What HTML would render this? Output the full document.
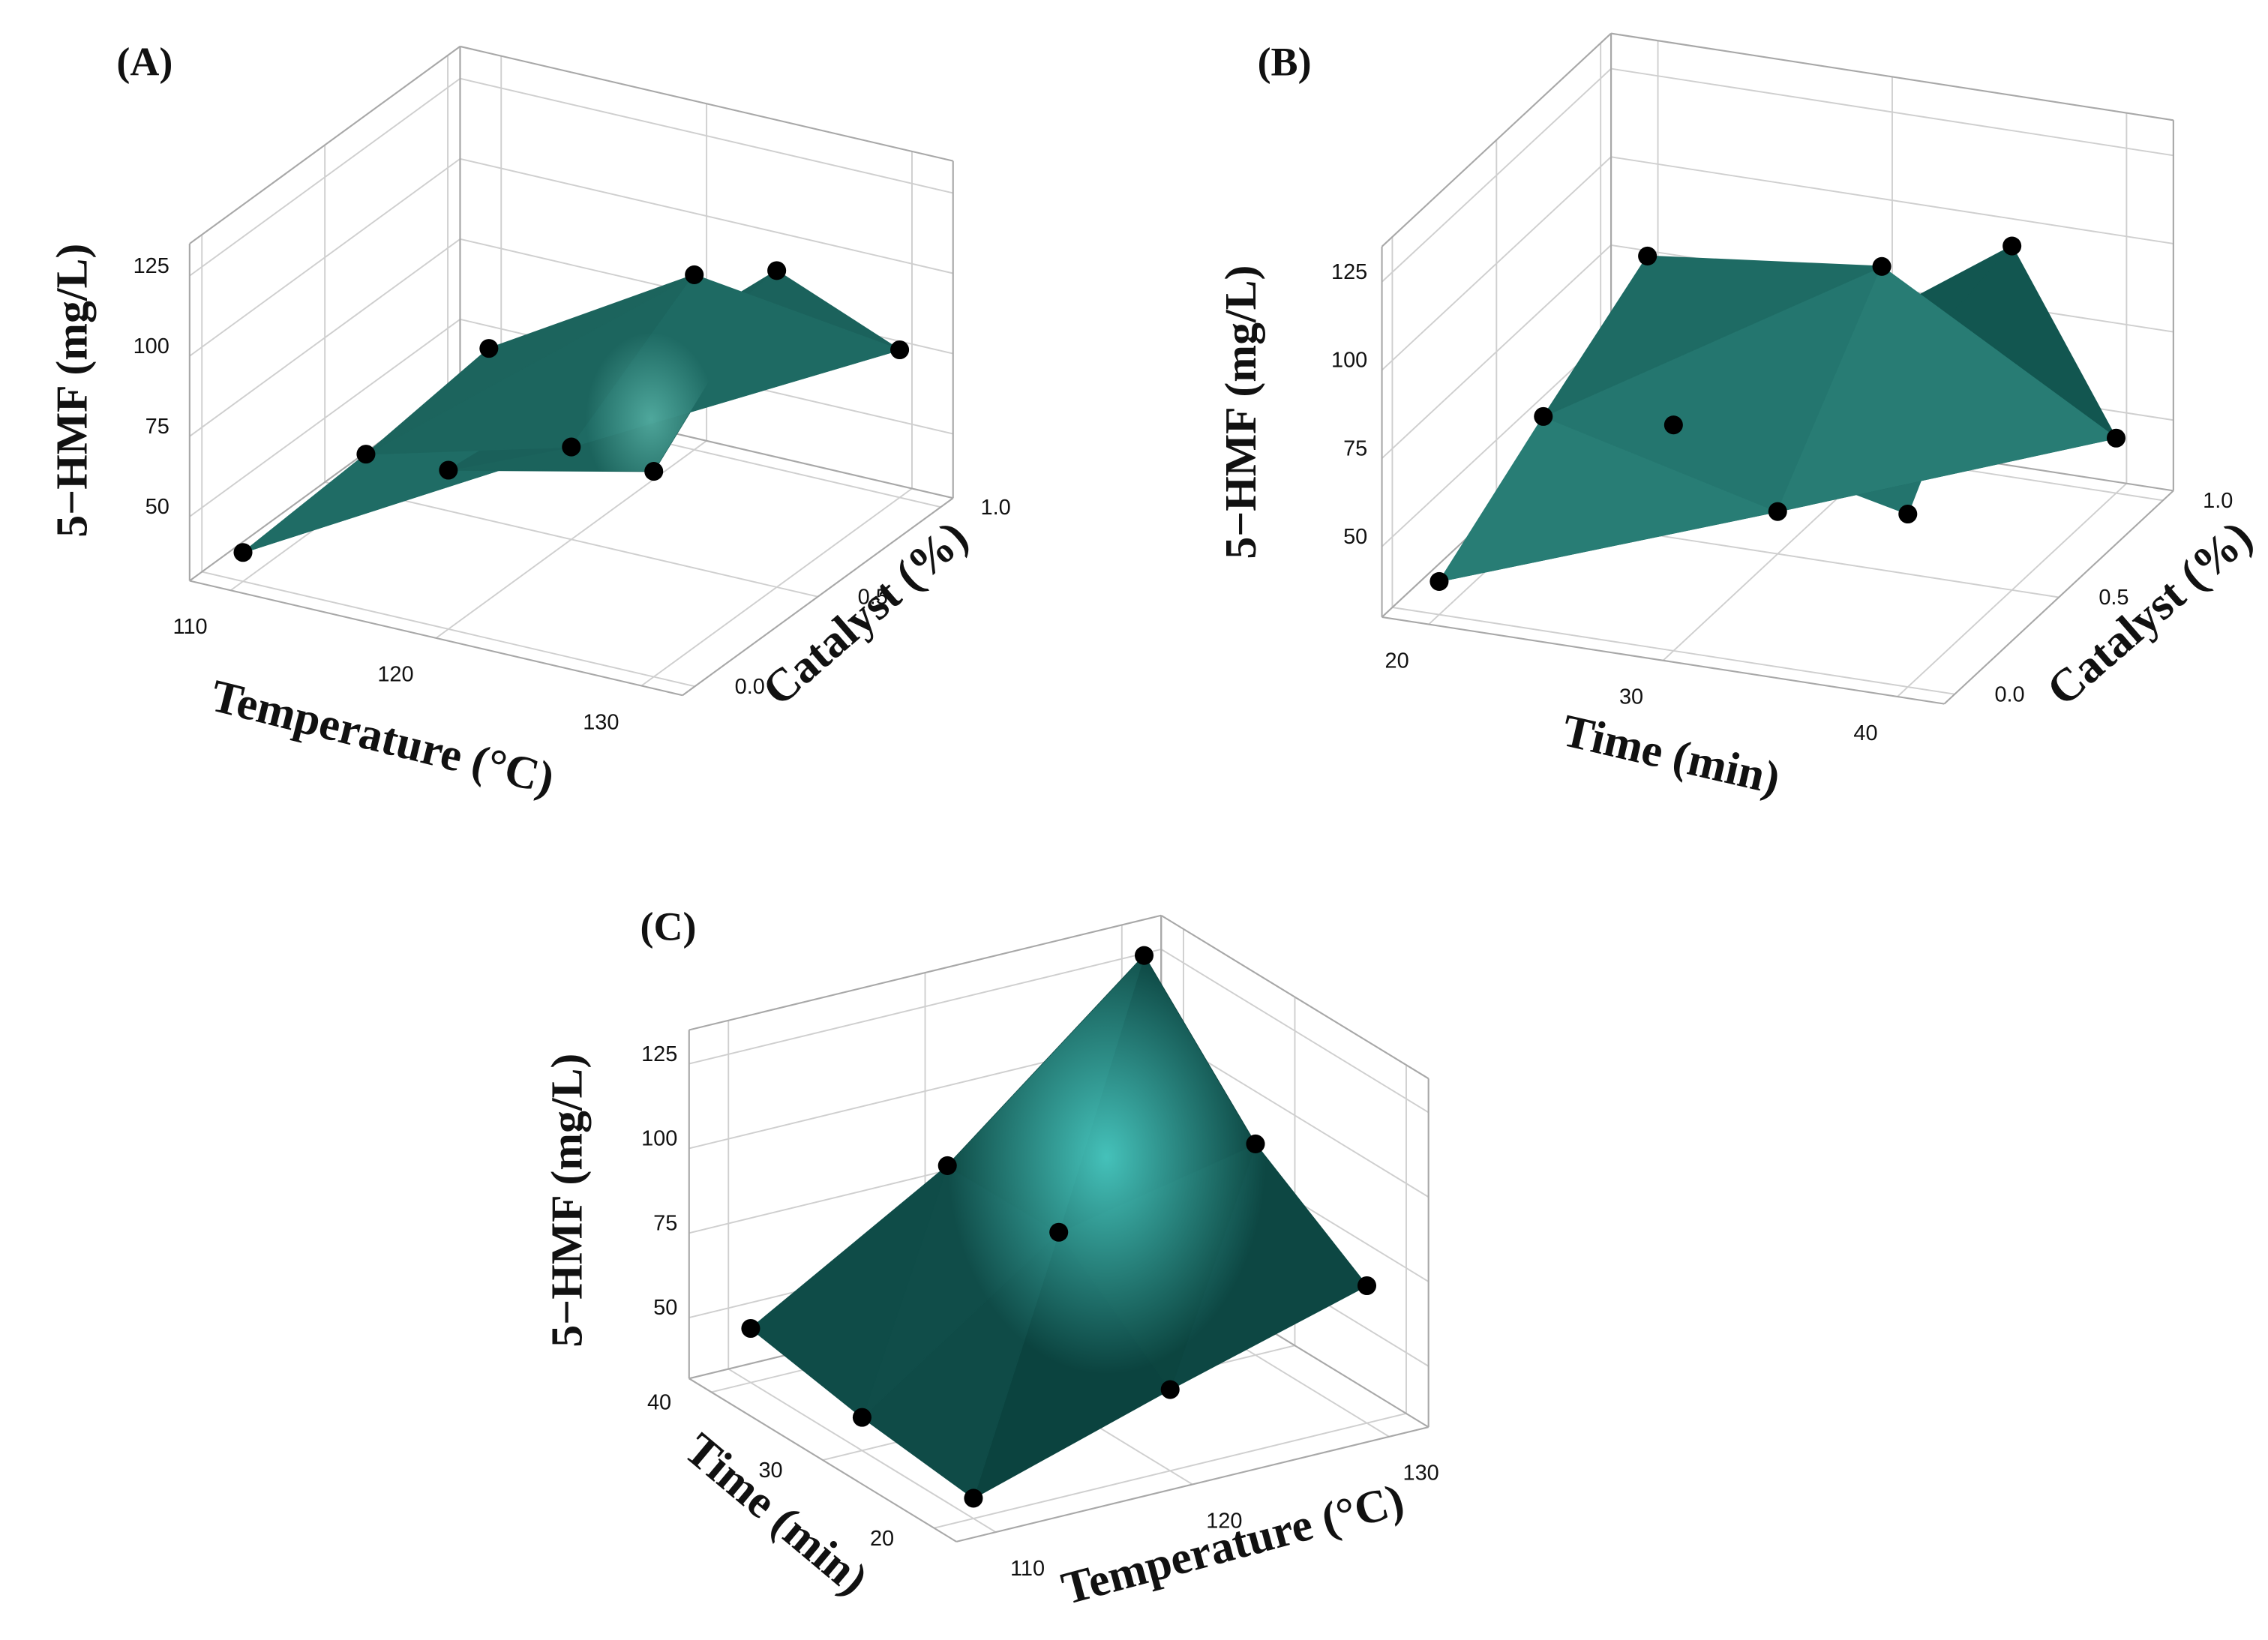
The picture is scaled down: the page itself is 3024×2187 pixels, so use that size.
<!DOCTYPE html>
<html><head><meta charset="utf-8"><style>
html,body{margin:0;padding:0;background:#fff}
svg{display:block}
</style></head><body>
<svg id="fig" xmlns="http://www.w3.org/2000/svg" width="3024" height="2187" viewBox="0 0 1568 1134" preserveAspectRatio="none">
<defs>
<radialGradient id="hlC" cx="0.5" cy="0.5" r="0.5">
<stop offset="0" stop-color="#4fd8d0" stop-opacity="0.85"/>
<stop offset="1" stop-color="#4fd8d0" stop-opacity="0"/>
</radialGradient>
<radialGradient id="hlA" cx="0.5" cy="0.5" r="0.5">
<stop offset="0" stop-color="#6fd0c2" stop-opacity="0.6"/>
<stop offset="1" stop-color="#6fd0c2" stop-opacity="0"/>
</radialGradient>
</defs>
<g id="root"></g>
</svg>
<script>
// ---- data ----
// Panel A: Temperature x Catalyst
var tempA = [110, 120, 130];
var catA = [0, 0.5, 1.0];
var hmfA_cat0 = [39, 79.5, 94];
var hmfA_cat05 = [41.7, 58.8, 128.6];
var hmfA_cat1 = [46.7, 84.5, 76];
// Panel B: Time x Catalyst
var timeB = [20, 30, 40];
var catB = [0, 0.5, 1.0];
var hmfB_cat0 = [39.4, 94, 79];
var hmfB_cat05 = [58.7, 42, 127.5];
var hmfB_cat1 = [76.7, 84, 45.6];
// Panel C: Temperature x Time
var tempC = [110, 120, 130];
var timeC = [20, 30, 40];
var hmfC_t20 = [38, 56, 72.6];
var hmfC_t30 = [41.8, 82.4, 94.4];
var hmfC_t40 = [48, 82, 130];
// tick labels
var zTicks = [50, 75, 100, 125];
var tempTicks = [110, 120, 130];
var catTicks = [0, 0.5, 1.0];
var catTickLabels = ["0.0", "0.5", "1.0"];
var timeTicks = [20, 30, 40];

var NS = "http://www.w3.org/2000/svg";
var root = document.getElementById('root');
function el(tag, attrs, parent) {
  var e = document.createElementNS(NS, tag);
  for (var k in attrs) e.setAttribute(k, attrs[k]);
  (parent || root).appendChild(e);
  return e;
}
function makePanel(cfg) {
  cfg.P = function (x, y, z) {
    var fx = (x - cfg.x0) / cfg.xs, fy = (y - cfg.y0) / cfg.ys;
    return [cfg.o[0] + fx * cfg.vx[0] + fy * cfg.vy[0],
            cfg.o[1] + fx * cfg.vx[1] + fy * cfg.vy[1] - (z - cfg.z0) * cfg.zs];
  };
  return cfg;
}
function line(g, a, b, col, w) {
  el('line', {x1: a[0], y1: a[1], x2: b[0], y2: b[1], stroke: col, 'stroke-width': w}, g);
}
function drawBox(p, g) {
  var P = p.P, X = p.xr, Y = p.yr, Z = p.zr;
  var grid = '#cfcfcf', edge = '#a8a8a8';
  p.xticks.forEach(function (t) { line(g, P(t, Y[0], Z[0]), P(t, Y[1], Z[0]), grid, 1); });
  p.yticks.forEach(function (t) { line(g, P(X[0], t, Z[0]), P(X[1], t, Z[0]), grid, 1); });
  var wx = p.wallX, wy = p.wallY;
  zTicks.forEach(function (t) { line(g, P(wx, Y[0], t), P(wx, Y[1], t), grid, 1); });
  p.yticks.forEach(function (t) { line(g, P(wx, t, Z[0]), P(wx, t, Z[1]), grid, 1); });
  zTicks.forEach(function (t) { line(g, P(X[0], wy, t), P(X[1], wy, t), grid, 1); });
  p.xticks.forEach(function (t) { line(g, P(t, wy, Z[0]), P(t, wy, Z[1]), grid, 1); });
  var ox = (wx === X[0]) ? X[1] : X[0], oy = (wy === Y[0]) ? Y[1] : Y[0];
  [[ [wx,Y[0]],[wx,Y[1]] ], [ [X[0],wy],[X[1],wy] ], [ [ox,Y[0]],[ox,Y[1]] ], [ [X[0],oy],[X[1],oy] ]].forEach(function (s) {
    line(g, P(s[0][0], s[0][1], Z[0]), P(s[1][0], s[1][1], Z[0]), edge, 1.1);
  });
  [[wx,Y[0]],[wx,Y[1]],[X[0],wy],[X[1],wy]].forEach(function (c) {
    line(g, P(c[0], c[1], Z[0]), P(c[0], c[1], Z[1]), edge, 1.1);
  });
  line(g, P(wx, Y[0], Z[1]), P(wx, Y[1], Z[1]), edge, 1.1);
  line(g, P(X[0], wy, Z[1]), P(X[1], wy, Z[1]), edge, 1.1);
}
function shade(p, a, b, c) {
  function n(q) { return [(q[0] - p.x0) / p.xs, (q[1] - p.y0) / p.ys, (q[2] - p.z0) / 30]; }
  var A = n(a), B = n(b), C = n(c);
  var u = [B[0]-A[0], B[1]-A[1], B[2]-A[2]], v = [C[0]-A[0], C[1]-A[1], C[2]-A[2]];
  var nx = u[1]*v[2]-u[2]*v[1], ny = u[2]*v[0]-u[0]*v[2], nz = u[0]*v[1]-u[1]*v[0];
  var L = Math.sqrt(nx*nx+ny*ny+nz*nz) || 1; nx/=L; ny/=L; nz/=L;
  if (nz < 0) { nx=-nx; ny=-ny; nz=-nz; }
  var l = p.light, d = Math.max(0, nx*l[0]+ny*l[1]+nz*l[2]);
  var t = Math.min(1, d);
  var c0 = p.dark, c1 = p.bright;
  return 'rgb(' + c0.map(function (v, i) { return Math.round(v + (c1[i]-v)*t); }).join(',') + ')';
}
function drawSurface(p, g, xs, ys, rows) {
  var P = p.P, tris = [];
  for (var j = 0; j < ys.length - 1; j++) for (var i = 0; i < xs.length - 1; i++) {
    var q00 = [xs[i], ys[j], rows[j][i]], q10 = [xs[i+1], ys[j], rows[j][i+1]],
        q01 = [xs[i], ys[j+1], rows[j+1][i]], q11 = [xs[i+1], ys[j+1], rows[j+1][i+1]];
    tris.push([q00, q10, q11]); tris.push([q00, q11, q01]);
  }
  var sg = el('g', {}, g);
  
  
  tris.forEach(function (t) {
    var pts = t.map(function (q) { return P(q[0], q[1], q[2]).join(','); }).join(' ');
    var col = shade(p, t[0], t[1], t[2]);
    var e = el('polygon', {points: pts, fill: col, stroke: col, 'stroke-width': 0.8, 'stroke-linejoin': 'round'}, sg);
    
    
  });
  return sg;
}
function drawPoints(p, g, xs, ys, rows) {
  for (var j = 0; j < ys.length; j++) for (var i = 0; i < xs.length; i++) {
    var s = p.P(xs[i], ys[j], rows[j][i]);
    var c = el('circle', {cx: s[0], cy: s[1], r: 6.5, fill: '#000'}, g);
    
    
  }
}
function text(g, x, y, str, opts) {
  var t = el('text', {x: x, y: y}, g);
  t.setAttribute('font-family', opts.serif ? '"Liberation Serif", serif' : '"Liberation Sans", "DejaVu Sans", sans-serif');
  t.setAttribute('font-size', opts.size);
  if (opts.bold) t.setAttribute('font-weight', 'bold');
  t.setAttribute('text-anchor', opts.anchor || 'middle');
  t.setAttribute('fill', '#111');
  if (opts.rot) t.setAttribute('transform', 'rotate(' + opts.rot + ' ' + x + ' ' + y + ')');
  t.textContent = str;
  return t;
}
function named(e, n, i) {   return e; }

// ---- Panel A ----
var pA = makePanel({x0:110, xs:10, vx:[142,33], y0:0, ys:0.5, vy:[85,-62], o:[168,402], z0:30, zs:2.22,
  xr:[108,132], yr:[-0.05,1.05], zr:[30,135], xticks:tempTicks, yticks:catTicks, wallX:108, wallY:1.05,
  light:[0.3,0.3,0.9], dark:[24,92,86], bright:[36,118,110]});
var gA = named(el('g', {}), 'panel-a', false);
drawBox(pA, gA);
drawSurface(pA, gA, tempA, catA, [hmfA_cat0, hmfA_cat05, hmfA_cat1]);
var clipA = el('clipPath', {id:'clipA'}, gA);
var outA = [pA.P(110,0,hmfA_cat0[0]), pA.P(120,0,hmfA_cat0[1]), pA.P(130,0,hmfA_cat0[2]), pA.P(130,0.5,hmfA_cat05[2]), pA.P(120,1,hmfA_cat1[1]), pA.P(110,1,hmfA_cat1[0])];
el('polygon', {points: outA.map(function(s){return s.join(',');}).join(' ')}, clipA);
named(el('ellipse', {cx:450, cy:290, rx:45, ry:60, fill:'url(#hlA)', 'clip-path':'url(#clipA)'}, gA), 'surface-highlight', false);
drawPoints(pA, gA, tempA, catA, [hmfA_cat0, hmfA_cat05, hmfA_cat1]);
zTicks.forEach(function (t) { var s = pA.P(108, -0.05, t); named(text(gA, s[0]-14, s[1]-2, String(t), {size:15, anchor:'end'}), 'z-tick-label', false); });
tempTicks.forEach(function (t) { var s = pA.P(t, -0.05, 30); named(text(gA, s[0]-28, s[1]+30, String(t), {size:15}), 'x-tick-label', false); });
catTicks.forEach(function (t, i) { var s = pA.P(132, t, 30); named(text(gA, s[0]+38, s[1]+5, catTickLabels[i], {size:15}), 'y-tick-label', false); });
named(text(gA, 262, 520, 'Temperature (°C)', {serif:true, bold:true, size:32, rot:14}), 'x-axis-title', false);
named(text(gA, 605, 432, 'Catalyst (%)', {serif:true, bold:true, size:32, rot:-41}), 'y-axis-title', false);
named(text(gA, 60, 270, '5−HMF (mg/L)', {serif:true, bold:true, size:31, rot:-90}), 'z-axis-title', false);
named(text(gA, 100, 52, '(A)', {serif:true, bold:true, size:28}), 'panel-label-a', false);

// ---- Panel B ----
var pB = makePanel({x0:20, xs:10, vx:[162,25], y0:0, ys:0.5, vy:[72,-67], o:[995,425], z0:30, zs:2.44,
  xr:[18,42], yr:[-0.05,1.05], zr:[30,135], xticks:timeTicks, yticks:catTicks, wallX:18, wallY:1.05,
  light:[0.7,-0.2,0.6], dark:[18,86,80], bright:[44,132,124]});
var gB = named(el('g', {}), 'panel-b', false);
drawBox(pB, gB);
drawSurface(pB, gB, timeB, catB, [hmfB_cat0, hmfB_cat05, hmfB_cat1]);
drawPoints(pB, gB, timeB, catB, [hmfB_cat0, hmfB_cat05, hmfB_cat1]);
zTicks.forEach(function (t) { var s = pB.P(18, -0.05, t); named(text(gB, s[0]-10, s[1]-2, String(t), {size:15, anchor:'end'}), 'z-tick-label', false); });
timeTicks.forEach(function (t) { var s = pB.P(t, -0.05, 30); named(text(gB, s[0]-22, s[1]+30, String(t), {size:15}), 'x-tick-label', false); });
catTicks.forEach(function (t, i) { var s = pB.P(42, t, 30); named(text(gB, s[0]+38, s[1]+5, catTickLabels[i], {size:15}), 'y-tick-label', false); });
named(text(gB, 1153, 532, 'Time (min)', {serif:true, bold:true, size:32, rot:13}), 'x-axis-title', false);
named(text(gB, 1493, 432, 'Catalyst (%)', {serif:true, bold:true, size:32, rot:-41}), 'y-axis-title', false);
named(text(gB, 868, 285, '5−HMF (mg/L)', {serif:true, bold:true, size:31, rot:-90}), 'z-axis-title', false);
named(text(gB, 888, 52, '(B)', {serif:true, bold:true, size:28}), 'panel-label-b', false);

// ---- Panel C ----
var pC = makePanel({x0:110, xs:10, vx:[136,-33], y0:20, ys:10, vy:[-77,-47], o:[673,1050], z0:32, zs:2.34,
  xr:[108,132], yr:[18,42], zr:[32,135], xticks:tempTicks, yticks:timeTicks, wallX:132, wallY:42,
  light:[0.2,0.6,0.75], dark:[10,64,60], bright:[30,110,104]});
var gC = named(el('g', {}), 'panel-c', false);
drawBox(pC, gC);
var sC = drawSurface(pC, gC, tempC, timeC, [hmfC_t20, hmfC_t30, hmfC_t40]);
var clip = el('clipPath', {id:'clipC'}, gC);
var outline = [pC.P(110,20,hmfC_t20[0]), pC.P(130,20,hmfC_t20[2]), pC.P(130,30,hmfC_t30[2]), pC.P(130,40,hmfC_t40[2]), pC.P(120,40,hmfC_t40[1]), pC.P(110,40,hmfC_t40[0]), pC.P(110,30,hmfC_t30[0])];
el('polygon', {points: outline.map(function(s){return s.join(',');}).join(' ')}, clip);
var hl = el('ellipse', {cx:765, cy:800, rx:110, ry:150, fill:'url(#hlC)', 'clip-path':'url(#clipC)'}, gC);
named(hl, 'surface-highlight', false);
drawPoints(pC, gC, tempC, timeC, [hmfC_t20, hmfC_t30, hmfC_t40]);
zTicks.forEach(function (t) { var s = pC.P(108, 42, t); named(text(gC, s[0]-8, s[1]-2, String(t), {size:15, anchor:'end'}), 'z-tick-label', false); });
tempTicks.forEach(function (t) { var s = pC.P(t, 18, 32); named(text(gC, s[0]+22, s[1]+30, String(t), {size:15}), 'x-tick-label', false); });
timeTicks.forEach(function (t) { var s = pC.P(108, t, 32); named(text(gC, s[0]-36, s[1]+12, String(t), {size:15}), 'y-tick-label', false); });
named(text(gC, 855, 1078, 'Temperature (°C)', {serif:true, bold:true, size:32, rot:-15}), 'x-axis-title', false);
named(text(gC, 530, 1055, 'Time (min)', {serif:true, bold:true, size:32, rot:40}), 'y-axis-title', false);
named(text(gC, 402, 830, '5−HMF (mg/L)', {serif:true, bold:true, size:31, rot:-90}), 'z-axis-title', false);
named(text(gC, 462, 650, '(C)', {serif:true, bold:true, size:28}), 'panel-label-c', false);
</script>
</body></html>
